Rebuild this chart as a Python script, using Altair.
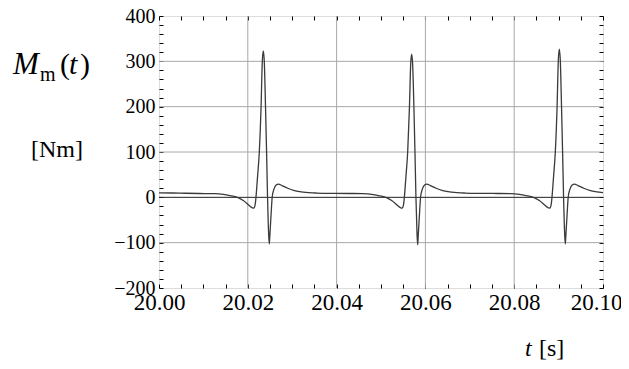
import altair as alt
import pandas as pd

# ---- data ----
t_values = [
    20.0000, 20.0030, 20.0060, 20.0090, 20.01249,
    20.01449, 20.01599, 20.01769, 20.01899, 20.01999, 20.02069, 20.02119, 20.02149, 20.02169,
    20.02184, 20.02219, 20.02259, 20.02299, 20.02327, 20.02349, 20.02371, 20.02399, 20.02423,
    20.02445, 20.02469, 20.02484, 20.02499, 20.02529, 20.02549, 20.02589, 20.02639, 20.02689,
    20.02769, 20.02899, 20.03049, 20.03249, 20.03549, 20.03949, 20.0430,
    20.04591, 20.04791, 20.04941, 20.05111, 20.05241, 20.05341, 20.05411, 20.05461, 20.05491,
    20.05511, 20.05526, 20.05561, 20.05601, 20.05641, 20.05669, 20.05691, 20.05713, 20.05741,
    20.05765, 20.05787, 20.05811, 20.05826, 20.05841, 20.05871, 20.05891, 20.05931, 20.05981,
    20.06031, 20.06111, 20.06241, 20.06391, 20.06591, 20.06891, 20.07291, 20.0760,
    20.07916, 20.08116, 20.08266, 20.08436, 20.08566, 20.08666, 20.08736, 20.08786, 20.08816,
    20.08836, 20.08851, 20.08886, 20.08926, 20.08966, 20.08994, 20.09016, 20.09038, 20.09066,
    20.09090, 20.09112, 20.09136, 20.09151, 20.09166, 20.09196, 20.09216, 20.09256, 20.09306,
    20.09356, 20.09436, 20.09566, 20.09716, 20.09916, 20.1000,
]
m_values = [
    10.0, 9.6, 9.0, 8.5, 8.0,
    6.5, 4.0, 0.0, -7, -15, -21, -24, -22, -14,
    0, 45, 100, 200, 300, 323, 300, 200, 100,
    0, -80, -103, -80, -30, 0, 18, 27, 29,
    26, 20, 15, 11.5, 9.5, 8.8, 8.5,
    8.0, 6.5, 4.0, 0.0, -7, -15, -21, -24, -22,
    -14, 0, 45, 100, 200, 295, 316, 293, 200,
    100, 0, -80, -105, -80, -30, 0, 18, 27,
    29, 26, 20, 15, 11.5, 9.5, 8.8, 8.5,
    8.0, 6.5, 4.0, 0.0, -7, -15, -21, -24, -22,
    -14, 0, 45, 100, 200, 303, 327, 303, 200,
    100, 0, -80, -103, -80, -30, 0, 18, 27,
    29, 26, 20, 15, 11.5, 10.5,
]
x_grid = [20.02, 20.04, 20.06, 20.08]
y_grid = [-100, 100, 200, 300]
y_zero = [0]
x_ticks = [20.000, 20.005, 20.010, 20.015, 20.020, 20.025, 20.030, 20.035, 20.040, 20.045,
           20.050, 20.055, 20.060, 20.065, 20.070, 20.075, 20.080, 20.085, 20.090, 20.095, 20.100]
y_ticks = [-200, -180, -160, -140, -120, -100, -80, -60, -40, -20, 0, 20, 40, 60, 80, 100,
           120, 140, 160, 180, 200, 220, 240, 260, 280, 300, 320, 340, 360, 380, 400]

FONT = "Liberation Serif"
curve_df = pd.DataFrame({"t": t_values, "M": m_values})
one = pd.DataFrame({"a": [0]})

xs = alt.Scale(domain=[20.0, 20.1], nice=False, zero=False)
ys = alt.Scale(domain=[-200, 400], nice=False, zero=False)

tick_common = dict(domain=False, grid=False, ticks=True, tickSize=4, offset=-4,
                   tickColor="black", tickWidth=1, title=None, labelOverlap=False,
                   labelFlush=False)

bottom_axis = alt.Axis(orient="bottom", values=x_ticks,
                       labelExpr="abs(round(datum.value*1000) % 20) < 0.5 ? format(datum.value, '.2f') : ''",
                       labelFont=FONT, labelFontSize=23, labelColor="black", labelPadding=3,
                       labelOffset={"condition": {"test": "datum.value > 20.099", "value": -7},
                                    "value": 0},
                       **tick_common)
left_axis = alt.Axis(orient="left", values=y_ticks,
                     labelExpr="abs(datum.value % 100) < 0.5 ? format(datum.value, 'd') : ''",
                     labelFont=FONT, labelFontSize=20, labelColor="black", labelPadding=4,
                     **tick_common)
top_axis = alt.Axis(orient="top", values=x_ticks, labels=False, **tick_common)
right_axis = alt.Axis(orient="right", values=y_ticks, labels=False, **tick_common)

vgrid = alt.Chart(pd.DataFrame({"g": x_grid})).mark_rule(
    color="#a8a8a8", strokeWidth=1).encode(x=alt.X("g:Q", scale=xs, axis=top_axis))
hgrid = alt.Chart(pd.DataFrame({"h": y_grid})).mark_rule(
    color="#a8a8a8", strokeWidth=1).encode(y=alt.Y("h:Q", scale=ys, axis=right_axis))
zero = alt.Chart(pd.DataFrame({"z": y_zero})).mark_rule(
    color="#222222", strokeWidth=1).encode(y=alt.Y("z:Q", scale=ys, axis=None))

line = alt.Chart(curve_df).mark_line(
    color="#3a3a3a", strokeWidth=1.3, interpolate="monotone").encode(
    x=alt.X("t:Q", scale=xs, axis=bottom_axis),
    y=alt.Y("M:Q", scale=ys, axis=left_axis),
)


def label(txt, x, y, size, style="normal", align="left"):
    return alt.Chart(one).mark_text(
        font=FONT, fontSize=size, fontStyle=style, color="black",
        align=align, baseline="alphabetic").encode(
        x=alt.value(x), y=alt.value(y), text=alt.value(txt))


texts = [
    label("M", -146, 58, 31, "italic"),
    label("m", -119, 65, 20),
    label("(", -99, 58, 30),
    label("t", -90, 58, 30, "italic"),
    label(")", -79, 58, 30),
    label("[Nm]", -128, 141, 24),
    label("t", 366, 340, 24, "italic"),
    label("[s]", 380, 340, 24),
]

chart = alt.layer(vgrid, hgrid, zero, line, *texts).resolve_axis(
    x="independent", y="independent"
).properties(
    width=444, height=272,
    autosize=alt.AutoSizeParams(type="none"),
    padding={"left": 151, "top": 8, "right": 18, "bottom": 72},
).configure_view(stroke="black", strokeWidth=1.3).configure(background="white")

chart.save("out.html", embed_options={"renderer": "svg", "actions": False})
